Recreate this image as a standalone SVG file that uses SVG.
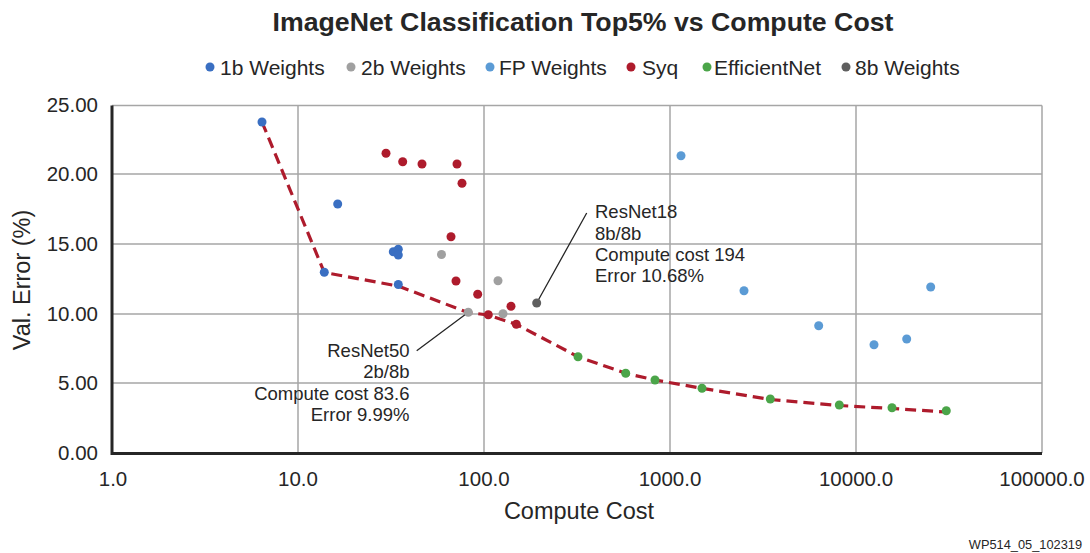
<svg xmlns="http://www.w3.org/2000/svg" width="1090" height="553" viewBox="0 0 1090 553">
<style>
text{font-family:"Liberation Sans",Arial,sans-serif;fill:#262626}
.grid{stroke:#a6a6a6;stroke-width:1.5;fill:none}
.axis{stroke:#262626;stroke-width:3;fill:none}
.tick{font-size:20.5px}
.leg{font-size:21px}
.ann{font-size:18.5px}
.b1{fill:#3a6fc2}
.b2{fill:#a0a0a0}
.fp{fill:#5b9bd5}
.syq{fill:#ae1b2c}
.eff{fill:#4ba549}
.b8{fill:#5f5f5f}
.lead{stroke:#262626;stroke-width:1.3;fill:none}
</style>
<rect width="1090" height="553" fill="#ffffff"/>
<text x="583" y="31" text-anchor="middle" style="font-size:26.7px;font-weight:bold">ImageNet Classification Top5% vs Compute Cost</text>
<g id="legend" class="leg">
<circle class="b1" cx="210" cy="67" r="4.5"/><text x="220" y="74.5">1b Weights</text>
<circle class="b2" cx="351" cy="67" r="4.5"/><text x="361" y="74.5">2b Weights</text>
<circle class="fp" cx="490" cy="67" r="4.5"/><text x="499" y="74.5">FP Weights</text>
<circle class="syq" cx="631" cy="67" r="4.5"/><text x="642" y="74.5">Syq</text>
<circle class="eff" cx="707" cy="67" r="4.5"/><text x="714" y="74.5">EfficientNet</text>
<circle class="b8" cx="846" cy="67" r="4.5"/><text x="855" y="74.5">8b Weights</text>
</g>
<g id="grid">
<path class="grid" d="M112 105.5H1042M112 174H1042M112 244H1042M112 314H1042M112 383H1042M298 105.5V453M484 105.5V453M670 105.5V453M856 105.5V453M1042 105.5V453"/>
<path class="axis" d="M112 105.5V453.5H1042"/>
</g>
<g id="yticks" class="tick" text-anchor="end">
<text x="98" y="112">25.00</text>
<text x="98" y="181">20.00</text>
<text x="98" y="251">15.00</text>
<text x="98" y="321">10.00</text>
<text x="98" y="390">5.00</text>
<text x="98" y="460">0.00</text>
</g>
<g id="xticks" class="tick" text-anchor="middle">
<text x="113" y="486">1.0</text>
<text x="298" y="486">10.0</text>
<text x="484" y="486">100.0</text>
<text x="670" y="486">1000.0</text>
<text x="856" y="486">10000.0</text>
<text x="1042" y="486">100000.0</text>
</g>
<text x="579" y="519" text-anchor="middle" style="font-size:23.5px">Compute Cost</text>
<text transform="translate(30 280) rotate(-90)" text-anchor="middle" style="font-size:23.5px">Val. Error (%)</text>
<text x="1082" y="549" text-anchor="end" style="font-size:12.8px">WP514_05_102319</text>
<g id="connectors">
<path d="M262 122L324.3 272.5L398 286L468 312.5L488 315L516.3 324.3L578 356.7L625.7 373.3L655 380L702 388.3L770 399.5L839 405.5L892 408.5L946 412" fill="none" stroke="#ae1b2c" stroke-width="3.2" stroke-dasharray="11 6"/>
<path class="lead" d="M416.7 350.7L468 312.5M536.7 303L586.7 213"/>
</g>
<g id="series-1b">
<circle class="b1" cx="262" cy="122" r="4.5"/>
<circle class="b1" cx="337.7" cy="204" r="4.5"/>
<circle class="b1" cx="324.3" cy="272.3" r="4.5"/>
<circle class="b1" cx="393.3" cy="251.7" r="4.5"/>
<circle class="b1" cx="398.3" cy="249.3" r="4.5"/>
<circle class="b1" cx="398.3" cy="255" r="4.5"/>
<circle class="b1" cx="398.3" cy="284.5" r="4.5"/>
</g>
<g id="series-syq">
<circle class="syq" cx="386" cy="153.3" r="4.5"/>
<circle class="syq" cx="402.7" cy="161.7" r="4.5"/>
<circle class="syq" cx="422" cy="164" r="4.5"/>
<circle class="syq" cx="457" cy="164" r="4.5"/>
<circle class="syq" cx="462" cy="183.3" r="4.5"/>
<circle class="syq" cx="451" cy="236.7" r="4.5"/>
<circle class="syq" cx="456" cy="281" r="4.5"/>
<circle class="syq" cx="477.7" cy="294.3" r="4.5"/>
<circle class="syq" cx="488.3" cy="314.7" r="4.5"/>
<circle class="syq" cx="511" cy="306.3" r="4.5"/>
<circle class="syq" cx="516.3" cy="324.3" r="4.5"/>
</g>
<g id="series-2b">
<circle class="b2" cx="441.5" cy="254.5" r="4.5"/>
<circle class="b2" cx="498" cy="280.7" r="4.5"/>
<circle class="b2" cx="468.3" cy="312.3" r="4.5"/>
<circle class="b2" cx="503" cy="313.7" r="4.5"/>
</g>
<g id="series-8b">
<circle class="b8" cx="536.7" cy="303" r="4.5"/>
</g>
<g id="series-fp">
<circle class="fp" cx="681" cy="155.7" r="4.5"/>
<circle class="fp" cx="744" cy="290.7" r="4.5"/>
<circle class="fp" cx="818.7" cy="325.7" r="4.5"/>
<circle class="fp" cx="874" cy="344.7" r="4.5"/>
<circle class="fp" cx="906.7" cy="339" r="4.5"/>
<circle class="fp" cx="930.7" cy="287" r="4.5"/>
</g>
<g id="series-eff">
<circle class="eff" cx="578" cy="356.7" r="4.5"/>
<circle class="eff" cx="625.7" cy="373.3" r="4.5"/>
<circle class="eff" cx="655" cy="380" r="4.5"/>
<circle class="eff" cx="702" cy="388.3" r="4.5"/>
<circle class="eff" cx="770.3" cy="399" r="4.5"/>
<circle class="eff" cx="839.3" cy="405" r="4.5"/>
<circle class="eff" cx="892" cy="407.7" r="4.5"/>
<circle class="eff" cx="946.3" cy="410.7" r="4.5"/>
</g>
<g id="label-resnet18" class="ann">
<text x="595" y="218">ResNet18</text>
<text x="595" y="239.5">8b/8b</text>
<text x="595" y="261">Compute cost 194</text>
<text x="595" y="282">Error 10.68%</text>
</g>
<g id="label-resnet50" class="ann" text-anchor="end">
<text x="409.5" y="357">ResNet50</text>
<text x="409.5" y="378">2b/8b</text>
<text x="409.5" y="400">Compute cost 83.6</text>
<text x="409.5" y="421">Error 9.99%</text>
</g>
</svg>
